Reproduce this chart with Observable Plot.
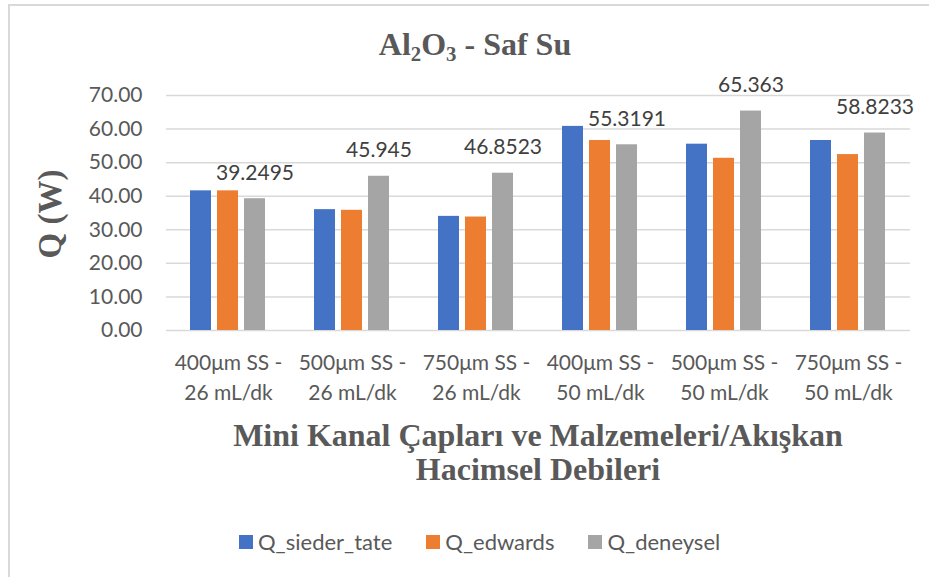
<!DOCTYPE html>
<html>
<head>
<meta charset="utf-8">
<script src="https://cdn.jsdelivr.net/npm/d3@7"></script>
<script src="https://cdn.jsdelivr.net/npm/@observablehq/plot@0.6"></script>
<style>
  html, body { margin: 0; padding: 0; background: #fff; }
  #wrap { position: relative; width: 929px; height: 577px; overflow: hidden; }
  #chart { position: absolute; left: 0; top: 0; }
  #chart svg { background: transparent; }
  .frame { position: absolute; left: 8px; top: 4px; width: 1000px; height: 700px;
           border-left: 2px solid #d9d9d9; border-top: 2px solid #d9d9d9; pointer-events: none; }
  .title { position: absolute; left: 0; width: 950px; top: 25px; text-align: center;
           font-family: "Liberation Serif", "DejaVu Serif", serif; font-weight: bold;
           font-size: 32px; color: #595959; line-height: 38px; }
  .title sub { font-size: 0.65em; vertical-align: -0.3em; line-height: 0; }
  .ytitle { position: absolute; left: 50px; top: 214px; transform: translate(-50%, -50%) rotate(-90deg);
            white-space: nowrap; font-family: "Liberation Serif", "DejaVu Serif", serif;
            font-weight: bold; font-size: 33px; color: #595959; }
  .xtitle { position: absolute; left: 164px; width: 748px; top: 418px; text-align: center;
            font-family: "Liberation Serif", "DejaVu Serif", serif; font-weight: bold;
            font-size: 32px; line-height: 34px; color: #595959; }
  .legend { position: absolute; left: 239px; top: 528px; display: flex; align-items: center;
            font-family: Lato, "Open Sans", sans-serif; font-size: 22px; color: #595959; }
  .legend .item { display: flex; align-items: center; margin-right: 34px; }
  .legend .sw { width: 14px; height: 14px; margin-right: 5px; }
</style>
</head>
<body>
<div id="wrap">
  <div id="chart"></div>
  <div class="frame"></div>
  <div class="title">Al<sub>2</sub>O<sub>3</sub> - Saf Su</div>
  <div class="ytitle">Q (W)</div>
  <div class="xtitle">Mini Kanal Çapları ve Malzemeleri/Akışkan<br>Hacimsel Debileri</div>
  <div class="legend" id="legend"></div>
</div>
<script>
const categories = [
  "400μm SS - 26 mL/dk",
  "500μm SS - 26 mL/dk",
  "750μm SS - 26 mL/dk",
  "400μm SS - 50 mL/dk",
  "500μm SS - 50 mL/dk",
  "750μm SS - 50 mL/dk"
];
const seriesNames = ["Q_sieder_tate", "Q_edwards", "Q_deneysel"];
const seriesColors = ["#4472C4", "#ED7D31", "#A5A5A5"];
const qSiederTate = [41.6, 36.0, 34.0, 60.8, 55.5, 56.6];
const qEdwards    = [41.6, 35.8, 33.8, 56.6, 51.3, 52.4];
const qDeneysel   = [39.2495, 45.945, 46.8523, 55.3191, 65.363, 58.8233];
const yTicks = [0, 10, 20, 30, 40, 50, 60, 70];
const labeledSeries = "Q_deneysel";

const seriesValues = [qSiederTate, qEdwards, qDeneysel];
const rows = [];
categories.forEach((c, i) => {
  seriesNames.forEach((s, j) => rows.push({category: c, series: s, value: seriesValues[j][i]}));
});

const fmtCat = d => d.replace(" - ", " -\n");
const fontFamily = "Lato, 'Open Sans', sans-serif";

const plot = Plot.plot({
  width: 929,
  height: 577,
  marginTop: 95,
  marginBottom: 247,
  marginLeft: 164,
  marginRight: 17,
  style: {fontFamily, background: "transparent", color: "#595959"},
  fx: {domain: categories, paddingInner: 0, paddingOuter: 0},
  x: {domain: seriesNames, paddingInner: 0.22, paddingOuter: 0.9, axis: null},
  y: {domain: [0, 70]},
  color: {domain: seriesNames, range: seriesColors},
  marks: [
    Plot.gridY(yTicks, {stroke: "#d9d9d9", strokeOpacity: 1, strokeWidth: 1.5}),
    Plot.barY(rows, {fx: "category", x: "series", y: "value", fill: "series"}),
    Plot.text(rows.filter(d => d.series === labeledSeries), {
      fx: "category", x: "series", y: "value", text: d => String(d.value),
      lineAnchor: "bottom", dy: -19, fontSize: 21, fill: "#404040"
    }),
    Plot.axisY(yTicks, {tickSize: 0, tickPadding: 24, fontSize: 21, fill: "#595959",
      tickFormat: d => d.toFixed(2), label: null}),
    Plot.axisFx({anchor: "bottom", tickSize: 0, tickPadding: 18, fontSize: 21, lineHeight: 1.43,
      fill: "#595959", tickFormat: fmtCat, label: null})
  ]
});
document.getElementById("chart").appendChild(plot);

const legend = document.getElementById("legend");
seriesNames.forEach((s, i) => {
  const item = document.createElement("div");
  item.className = "item";
  const sw = document.createElement("span");
  sw.className = "sw";
  sw.style.background = seriesColors[i];
  const t = document.createElement("span");
  t.textContent = s;
  item.appendChild(sw);
  item.appendChild(t);
  legend.appendChild(item);
});
</script>
</body>
</html>
